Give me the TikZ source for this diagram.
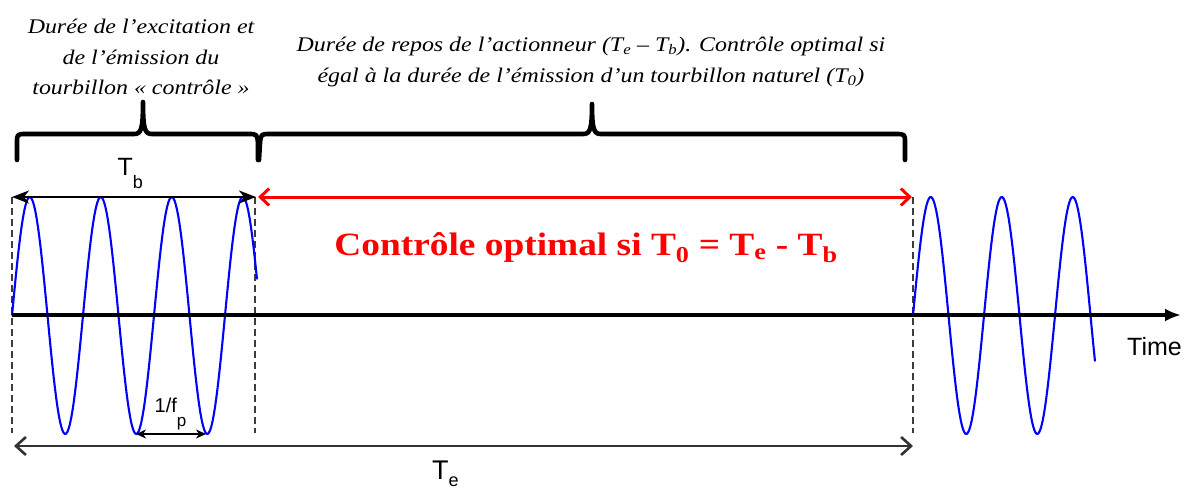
\documentclass[tikz,border=0pt]{standalone}
\usepackage{fontspec}
\setmainfont{Liberation Serif}
\setsansfont{Liberation Sans}
\newfontfamily\cambria[FakeStretch=1.15]{Liberation Serif}
\usetikzlibrary{arrows.meta}
\definecolor{wblue}{RGB}{0,0,255}
\definecolor{dashgray}{RGB}{60,60,60}
\definecolor{tegray}{RGB}{50,50,50}
\begin{document}
\begin{tikzpicture}[x=1pt,y=-1pt,
  wave/.style={draw=wblue, line width=2.1pt},
  guide/.style={draw=dashgray, line width=1.4pt, dash pattern=on 7pt off 4pt},
  bracepath/.style={draw=black, line width=4.6pt, line cap=round, line join=round},
  axisline/.style={draw=black, line width=4pt, -{Latex[length=16pt,width=13pt]}},
  tbarrow/.style={draw=black, line width=2pt, {Stealth[length=17pt,width=13pt,inset=5pt]}-{Stealth[length=17pt,width=13pt,inset=5pt]}},
  redarrow/.style={draw=red, line width=3pt, {Straight Barb[length=9pt,width=17pt]}-{Straight Barb[length=9pt,width=17pt]}},
  tearrow/.style={draw=tegray, line width=2.6pt, {Straight Barb[length=10pt,width=18pt]}-{Straight Barb[length=10pt,width=18pt]}},
  fparrow/.style={draw=black, line width=2pt, {Stealth[length=10pt,width=9pt,inset=3pt]}-{Stealth[length=10pt,width=9pt,inset=3pt]}},
  note/.style={inner sep=0pt, align=center, font=\cambria\itshape\fontsize{20.8}{30.5}\selectfont},
  sans/.style={inner sep=0pt, font=\sffamily},
]
\useasboundingbox (0,0) rectangle (1189,490);

% key coordinates
\coordinate (axL) at (12,315);
\coordinate (axR) at (1181,315);
\coordinate (tbL) at (12,197);
\coordinate (tbR) at (256,197);
\coordinate (rL) at (258,197);
\coordinate (rR) at (912,197);
\coordinate (teL) at (14,446);
\coordinate (teR) at (913,446);
\coordinate (fpL) at (136,434);
\coordinate (fpR) at (206,434);

% dashed guides
\draw[guide] (12,197) -- (12,433);
\draw[guide] (255,197) -- (255,433);
\draw[guide] (913,197) -- (913,433);

% sine waves
\draw[wave] plot[domain=12:257,samples=200] (\x,{315.5-118.5*sin((\x-12)/71*360)});
\draw[wave] plot[domain=913:1095,samples=150] (\x,{315.5-118.5*sin((\x-913)/71*360)});

% axis
\draw[axisline] (axL) -- (axR);

% arrows
\draw[tbarrow] (tbL) -- (tbR);
\draw[redarrow] (rL) -- (rR);
\draw[tearrow] (teL) -- (teR);
\draw[fparrow] (fpL) -- (fpR);

% braces
\draw[bracepath] (17,160) -- (17,143) .. controls (17,134) .. (26,134)
  -- (134,134) .. controls (141,134) and (143,130) .. (143,102)
  .. controls (143,130) and (145,134) .. (152,134)
  -- (248,134) .. controls (257,134) .. (258,143) -- (258,160);
\draw[bracepath] (259,160) -- (260,143) .. controls (261,134) .. (270,134)
  -- (583,134) .. controls (590,134) and (592,130) .. (592,104)
  .. controls (592,130) and (594,134) .. (601,134)
  -- (895,134) .. controls (905,134) .. (905,143) -- (905,160);

% labels
\node[sans, anchor=base west] (tb) at (117.5,175) {\fontsize{25}{25}\selectfont T\raisebox{-13pt}{\fontsize{18}{18}\selectfont b}};
\node[sans, anchor=base west] (te) at (432,479) {\fontsize{27}{27}\selectfont T\raisebox{-7pt}{\fontsize{18}{18}\selectfont e}};
\node[sans, anchor=base west] (fp) at (154.5,412) {\fontsize{20}{20}\selectfont 1/f\raisebox{-14pt}{\fontsize{17}{17}\selectfont p}};
\node[sans, anchor=base west] (time) at (1127,355) {\fontsize{25}{25}\selectfont Time};

\node[note] (n1) at (141,57) {Durée de l’excitation et\\de l’émission du\\tourbillon «~contrôle~»};
\node[note] (n2) at (591,62) {Durée de repos de l’actionneur (T\textsubscript{e} – T\textsubscript{b}). Contrôle optimal si\\égal à la durée de l’émission d’un tourbillon naturel (T\textsubscript{0})};

\node[inner sep=0pt, text=red, font=\cambria\bfseries\fontsize{32.5}{32.5}\selectfont] (opt) at (586,248)
  {Contrôle optimal si T\textsubscript{0} = T\textsubscript{e} - T\textsubscript{b}};
\end{tikzpicture}
\end{document}
